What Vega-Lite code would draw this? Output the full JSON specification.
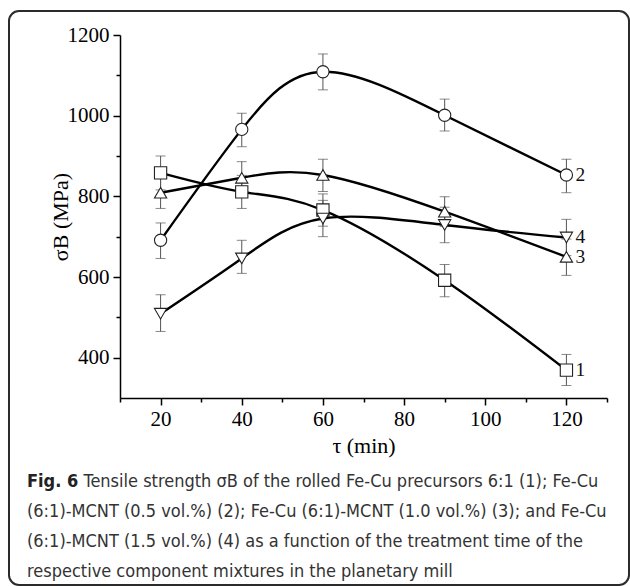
{
  "$schema": "https://vega.github.io/schema/vega-lite/v6.json",
  "width": 620,
  "height": 574,
  "autosize": {"type": "none"},
  "padding": {"left": 9, "top": 11, "right": 1, "bottom": 1},
  "background": "white",
  "config": {
    "view": {"stroke": "#2b2b2b", "strokeWidth": 2, "cornerRadius": 10, "fill": "white"}
  },
  "title": {
    "text": "Fig. 6",
    "subtitle": [
      "\u200b\u00a0\u00a0\u00a0\u00a0\u00a0\u00a0\u00a0\u00a0\u00a0\u00a0\u00a0Tensile strength σB of the rolled Fe-Cu precursors 6:1 (1); Fe-Cu",
      "(6:1)-MCNT (0.5 vol.%) (2); Fe-Cu (6:1)-MCNT (1.0 vol.%) (3); and Fe-Cu",
      "(6:1)-MCNT (1.5 vol.%) (4) as a function of the treatment time of the",
      "respective component mixtures in the planetary mill"
    ],
    "orient": "bottom",
    "anchor": "start",
    "frame": "group",
    "offset": -112,
    "dx": 18,
    "font": "DejaVu Sans Condensed, Roboto",
    "fontSize": 18,
    "fontWeight": "bold",
    "color": "#222",
    "subtitleFont": "DejaVu Sans Condensed, Roboto",
    "subtitleFontSize": 18,
    "subtitleColor": "#333",
    "subtitlePadding": -18,
    "subtitleLineHeight": 30
  },
  "data": {
    "values": [
      {"s": "1", "t": 20, "v": 858, "lo": 816, "hi": 900},
      {"s": "1", "t": 40, "v": 811, "lo": 770, "hi": 852},
      {"s": "1", "t": 60, "v": 766, "lo": 726, "hi": 806},
      {"s": "1", "t": 90, "v": 592, "lo": 551, "hi": 631},
      {"s": "1", "t": 120, "v": 369, "lo": 331, "hi": 408},
      {"s": "2", "t": 20, "v": 691, "lo": 646, "hi": 734},
      {"s": "2", "t": 40, "v": 966, "lo": 923, "hi": 1006},
      {"s": "2", "t": 60, "v": 1109, "lo": 1064, "hi": 1153},
      {"s": "2", "t": 90, "v": 1001, "lo": 962, "hi": 1041},
      {"s": "2", "t": 120, "v": 853, "lo": 809, "hi": 892},
      {"s": "3", "t": 20, "v": 809, "lo": 770, "hi": 849},
      {"s": "3", "t": 40, "v": 846, "lo": 806, "hi": 886},
      {"s": "3", "t": 60, "v": 853, "lo": 812, "hi": 892},
      {"s": "3", "t": 90, "v": 762, "lo": 725, "hi": 799},
      {"s": "3", "t": 120, "v": 650, "lo": 604, "hi": 694},
      {"s": "4", "t": 20, "v": 509, "lo": 465, "hi": 556},
      {"s": "4", "t": 40, "v": 646, "lo": 609, "hi": 691},
      {"s": "4", "t": 60, "v": 745, "lo": 700, "hi": 790},
      {"s": "4", "t": 90, "v": 729, "lo": 685, "hi": 773},
      {"s": "4", "t": 120, "v": 698, "lo": 653, "hi": 743}
    ]
  },
  "encoding": {
    "x": {
      "field": "t",
      "type": "quantitative",
      "scale": {"domain": [10, 130], "range": [111, 598], "nice": false, "zero": false},
      "axis": {
        "title": "τ (min)",
        "values": [10, 20, 30, 40, 50, 60, 70, 80, 90, 100, 110, 120, 130],
        "format": "d",
        "labelExpr": "datum.value % 20 === 0 ? datum.label : ''",
        "tickSize": {"condition": {"test": "datum.value % 20 === 0", "value": 7}, "value": 4},
        "offset": -187,
        "grid": false,
        "domainColor": "#000",
        "domainWidth": 1.5,
        "tickColor": "#000",
        "tickWidth": 1.5,
        "labelFont": "Liberation Serif",
        "labelFontSize": 21,
        "labelColor": "#000",
        "labelPadding": 3,
        "labelFlush": false,
        "labelOverlap": false,
        "titleFont": "Liberation Serif",
        "titleFontSize": 22,
        "titleFontWeight": "normal",
        "titleColor": "#000",
        "titlePadding": 6
      }
    },
    "y": {
      "field": "v",
      "type": "quantitative",
      "scale": {"domain": [300, 1200], "range": [387, 24], "nice": false, "zero": false},
      "axis": {
        "title": "σB (MPa)",
        "values": [400, 500, 600, 700, 800, 900, 1000, 1100, 1200],
        "format": "d",
        "labelExpr": "datum.value % 200 === 0 ? datum.label : ''",
        "tickSize": {"condition": {"test": "datum.value % 200 === 0", "value": 7}, "value": 4},
        "offset": -111,
        "grid": false,
        "domainColor": "#000",
        "domainWidth": 1.5,
        "tickColor": "#000",
        "tickWidth": 1.5,
        "labelFont": "Liberation Serif",
        "labelFontSize": 21,
        "labelColor": "#000",
        "labelPadding": 4,
        "labelFlush": false,
        "labelOverlap": false,
        "titleFont": "Liberation Serif",
        "titleFontSize": 22,
        "titleFontWeight": "normal",
        "titleColor": "#000",
        "titleX": -48
      }
    }
  },
  "layer": [
    {
      "mark": {"type": "errorbar", "color": "#555", "ticks": {"size": 10, "thickness": 1, "color": "#555"}, "rule": {"strokeWidth": 1, "color": "#555"}},
      "encoding": {
        "y": {
          "field": "lo",
          "type": "quantitative",
          "scale": {"domain": [300, 1200], "range": [387, 24], "nice": false, "zero": false},
          "axis": {
            "title": "σB (MPa)",
            "values": [400, 500, 600, 700, 800, 900, 1000, 1100, 1200],
            "format": "d",
            "labelExpr": "datum.value % 200 === 0 ? datum.label : ''",
            "tickSize": {"condition": {"test": "datum.value % 200 === 0", "value": 7}, "value": 4},
            "offset": -111,
            "grid": false,
            "domainColor": "#000",
            "domainWidth": 1.5,
            "tickColor": "#000",
            "tickWidth": 1.5,
            "labelFont": "Liberation Serif",
            "labelFontSize": 21,
            "labelColor": "#000",
            "labelPadding": 4,
            "labelFlush": false,
            "labelOverlap": false,
            "titleFont": "Liberation Serif",
            "titleFontSize": 22,
            "titleFontWeight": "normal",
            "titleColor": "#000",
            "titleX": -48
          }
        },
        "y2": {"field": "hi"},
        "detail": {"field": "s"}
      }
    },
    {
      "mark": {"type": "line", "interpolate": "natural", "color": "#000", "strokeWidth": 2.4},
      "encoding": {"detail": {"field": "s"}}
    },
    {
      "mark": {"type": "point", "filled": true, "fill": "white", "stroke": "#222", "strokeWidth": 1.1, "size": 150, "opacity": 1},
      "encoding": {
        "shape": {"field": "s", "type": "nominal", "scale": {"domain": ["1", "2", "3", "4"], "range": ["square", "circle", "triangle-up", "triangle-down"]}, "legend": null}
      }
    },
    {
      "transform": [{"filter": "datum.t === 120"}],
      "mark": {"type": "text", "align": "left", "baseline": "middle", "dx": 9, "font": "Liberation Serif", "fontSize": 19.5, "color": "#111"},
      "encoding": {"text": {"field": "s"}}
    }
  ]
}
